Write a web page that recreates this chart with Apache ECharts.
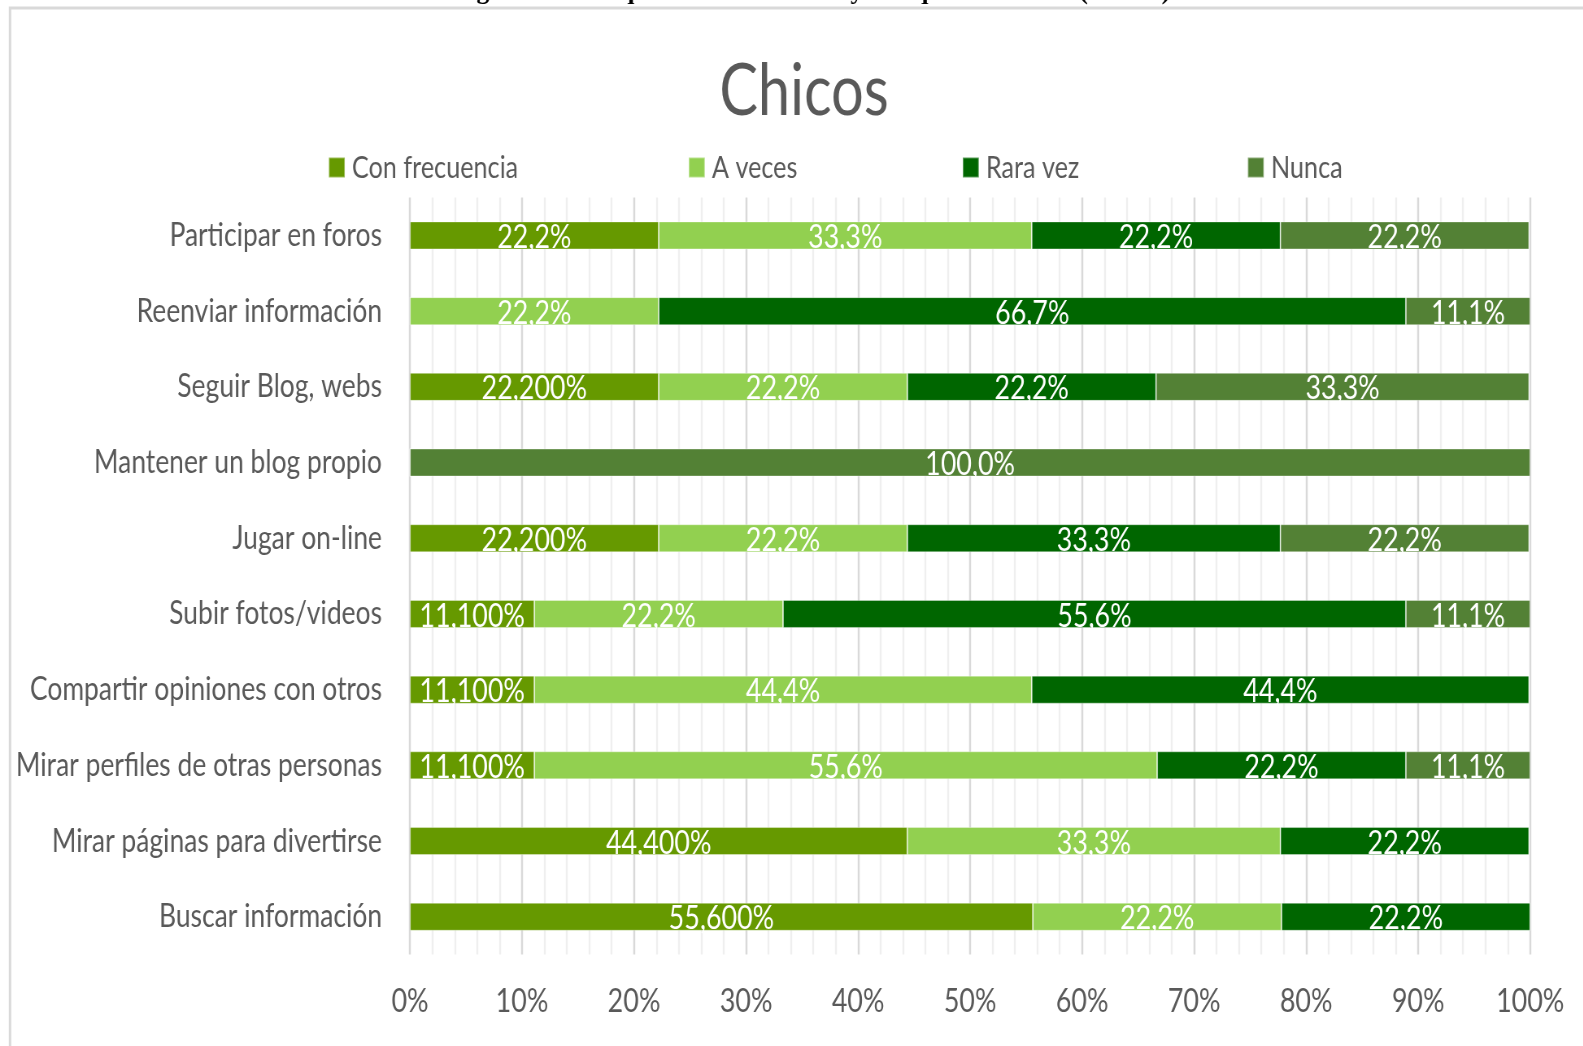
<!DOCTYPE html>
<html>
<head>
<meta charset="utf-8">
<script src="https://cdn.jsdelivr.net/npm/echarts@6/dist/echarts.min.js"></script>
<style>
html,body{margin:0;padding:0;background:#fff;overflow:hidden;width:1583px;height:1046px;}
#chart{height:1046px;transform-origin:0 0;}
</style>
</head>
<body>
<div id="chart"></div>
<script>
const categories = [
  'Participar en foros',
  'Reenviar información',
  'Seguir Blog, webs',
  'Mantener un blog propio',
  'Jugar on-line',
  'Subir fotos/videos',
  'Compartir opiniones con otros',
  'Mirar perfiles de otras personas',
  'Mirar páginas para divertirse',
  'Buscar información'
];
const seriesNames = ['Con frecuencia', 'A veces', 'Rara vez', 'Nunca'];
const conFrecuencia = [22.2, 0, 22.2, 0, 22.2, 11.1, 11.1, 11.1, 44.4, 55.6];
const aVeces        = [33.3, 22.2, 22.2, 0, 22.2, 22.2, 44.4, 55.6, 33.3, 22.2];
const raraVez       = [22.2, 66.7, 22.2, 0, 33.3, 55.6, 44.4, 22.2, 22.2, 22.2];
const nunca         = [22.2, 11.1, 33.3, 100, 22.2, 11.1, 0, 11.1, 0, 0];
// decimals shown in the "Con frecuencia" labels (as printed in the original)
const conFrecuenciaDecimals = [1, 1, 3, 1, 3, 3, 3, 3, 3, 3];
const xTicks = ['0%','10%','20%','30%','40%','50%','60%','70%','80%','90%','100%'];
const colors = ['#669900', '#92D050', '#006600', '#538135'];
const titleText = 'Chicos';
const captionText = 'Figura 3: Para qué utilizan Internet y con qué frecuencia (Chicos)';

const FONT = "Lato, 'Open Sans', sans-serif";
const seriesValues = [conFrecuencia, aVeces, raraVez, nunca];

// The original chart's typeface is horizontally condensed; we reproduce this by
// drawing wider and compressing the canvas horizontally by factor S.
const mc = document.createElement('canvas').getContext('2d');
mc.font = "32.5px Lato";
let S = 288 / mc.measureText('Mantener un blog propio').width;
if (!(S > 0.4 && S < 1.2)) S = 0.72;
const W = 1583;
const X = (v) => v / S;   // real px -> unscaled px

const el = document.getElementById('chart');
el.style.width = Math.ceil(W / S) + 'px';
el.style.transform = 'scaleX(' + S + ')';

function fmt(v, d) {
  if (!v) return '';
  return v.toFixed(d).replace('.', ',') + '%';
}

const chart = echarts.init(el);
const legendLefts = [328, 688, 962, 1247];

const option = {
  animation: false,
  color: colors,
  title: {
    text: titleText,
    left: X(800), top: 52,
    textAlign: 'center',
    textStyle: {fontFamily: FONT, fontSize: 71, fontWeight: 'normal', color: '#595959'}
  },
  legend: seriesNames.map((n, i) => ({
    data: [n],
    left: X(legendLefts[i]), top: 152,
    padding: 0,
    itemWidth: X(16), itemHeight: 20,
    icon: 'rect',
    textStyle: {fontFamily: FONT, fontSize: 31, color: '#595959', padding: [0, 0, 0, X(3)]}
  })),
  graphic: [
    {type: 'rect', shape: {x: X(10), y: 8, width: X(1640), height: 1100}, style: {fill: 'none', stroke: '#d9d9d9', lineWidth: 3}, silent: true},
    {type: 'text', x: X(812), y: 5, scaleX: 1 / S, style: {text: captionText, font: "bold 25.5px 'Liberation Serif', serif", fill: '#000', align: 'center', verticalAlign: 'bottom'}, silent: true}
  ],
  grid: {left: X(410), right: X(53), top: 197.6, height: 757, outerBoundsMode: 'none', containLabel: false},
  xAxis: {
    type: 'value', min: 0, max: 100, interval: 10,
    axisLabel: {
      fontFamily: FONT, fontSize: 33, color: '#595959', margin: 30,
      formatter: (v) => xTicks[Math.round(v / 10)]
    },
    axisLine: {show: false}, axisTick: {show: false},
    splitLine: {show: true, lineStyle: {color: '#d9d9d9', width: X(2)}},
    minorTick: {show: false, splitNumber: 5},
    minorSplitLine: {show: true, lineStyle: {color: '#efefef', width: X(2)}}
  },
  yAxis: {
    type: 'category', data: categories, inverse: true,
    axisLine: {show: false}, axisTick: {show: false},
    axisLabel: {fontFamily: FONT, fontSize: 32.5, color: '#595959', margin: X(28)}
  },
  series: seriesNames.map((n, i) => ({
    name: n, type: 'bar', stack: 'total', barWidth: 28,
    data: seriesValues[i],
    itemStyle: {color: colors[i], borderColor: 'rgba(255,255,255,0.35)', borderWidth: 1},
    label: {
      show: true, position: 'inside',
      fontFamily: FONT, fontSize: 33, color: '#ffffff', offset: [0, 2],
      formatter: (p) => fmt(p.value, i === 0 ? conFrecuenciaDecimals[p.dataIndex] : 1)
    }
  }))
};
chart.setOption(option);
</script>
</body>
</html>
